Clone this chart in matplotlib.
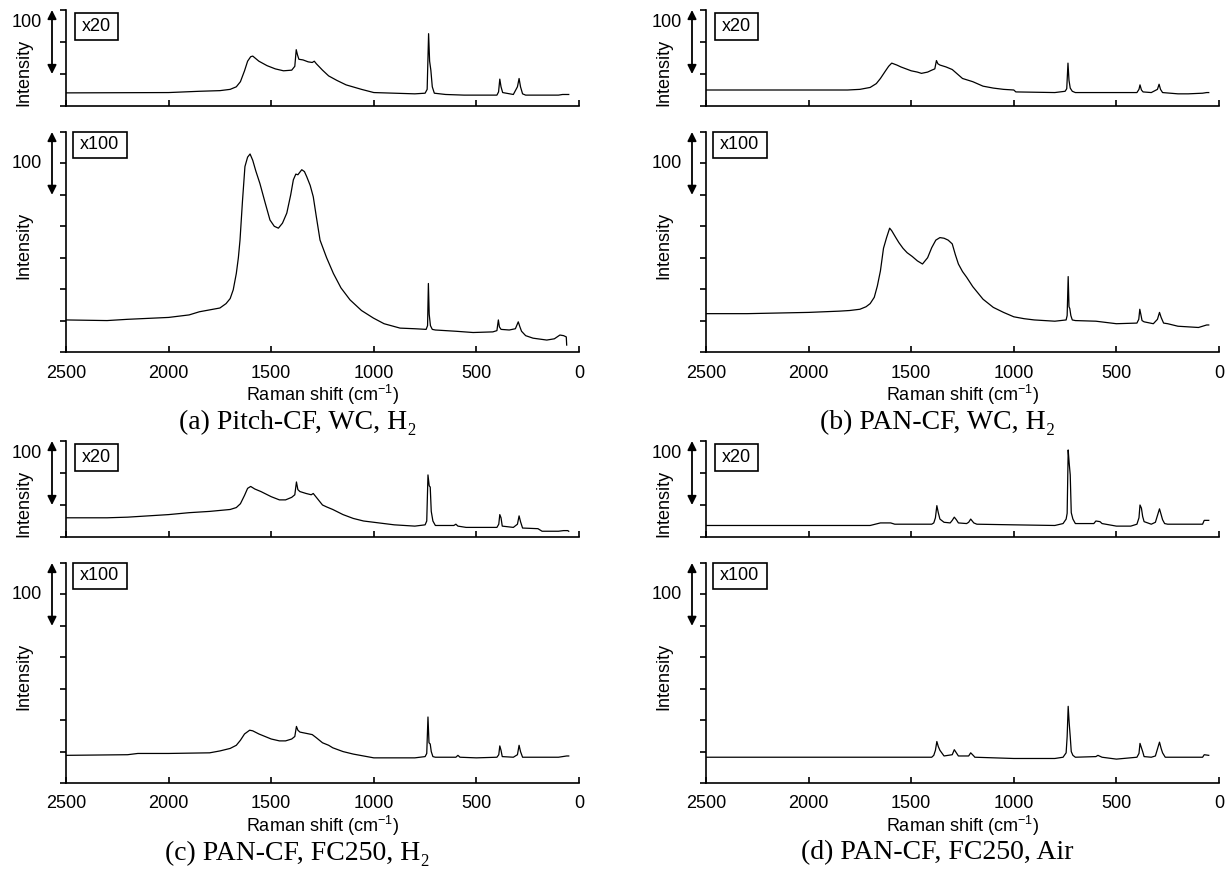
import matplotlib.pyplot as plt
from matplotlib.patches import Rectangle

plt.rcParams['font.family'] = ['Liberation Sans', 'DejaVu Sans']
plt.rcParams['mathtext.fontset'] = 'custom'
plt.rcParams['mathtext.rm'] = 'Liberation Sans'
plt.rcParams['mathtext.it'] = 'Liberation Sans:italic'

W, H = 1231, 875

# ---- spectra (Raman shift cm-1, intensity in arbitrary units; 50 per tick) ----
a_top_x = [2500, 2000, 1850, 1750, 1700, 1670, 1650, 1630, 1615, 1600, 1590, 1560, 1520, 1480, 1440,
           1400, 1385, 1378, 1372, 1365, 1345, 1320, 1300, 1290, 1280, 1250, 1220, 1180, 1135, 1060,
           1000, 800, 750, 740, 733, 728, 722, 715, 705, 650, 560, 400, 392, 386, 380, 372, 320,
           300, 292, 285, 275, 260, 100, 80, 50]
a_top_y = [20.5, 21, 23, 24, 26, 30, 38, 55, 70, 77, 78, 70, 63, 58, 55,
           56, 62, 88, 80, 73, 72, 69, 68, 70, 66, 56, 47, 40, 33, 26,
           21, 19, 20, 26, 113, 70, 56, 30, 20, 18, 17, 17, 22, 42, 30, 21, 18,
           30, 43, 30, 19, 17, 17, 18, 18]

a_low_x = [2500, 2300, 2200, 2000, 1900, 1850, 1750, 1720, 1700, 1685, 1670, 1660, 1652, 1640, 1628,
           1615, 1603, 1590, 1575, 1555, 1530, 1506, 1485, 1465, 1445, 1424, 1405, 1392, 1380, 1370,
           1351, 1338, 1327, 1310, 1295, 1280, 1262, 1230, 1197, 1160, 1116, 1060, 1002, 950, 872,
           800, 745, 738, 734, 730, 724, 715, 700, 600, 516, 420, 400, 393, 388, 380, 340, 310,
           296, 288, 280, 260, 224, 157, 120, 93, 75, 62, 60]
a_low_y = [51, 50, 52, 55, 59, 64, 70, 77, 85, 99, 125, 150, 178, 240, 295,
           310, 315, 305, 288, 268, 238, 210, 200, 197, 205, 221, 250, 274, 283, 282,
           290, 287, 279, 265, 247, 215, 178, 150, 125, 102, 83, 66, 54, 45, 38,
           37, 36, 42, 109, 60, 42, 36, 35, 33, 31, 32, 34, 51, 40, 36, 35, 37,
           48, 40, 33, 26, 22, 19, 21, 27, 26, 24, 11]

b_top_x = [2500, 1810, 1750, 1700, 1670, 1650, 1625, 1610, 1595, 1570, 1550, 1500, 1470, 1450, 1420,
           1400, 1385, 1377, 1370, 1360, 1330, 1300, 1275, 1250, 1200, 1150, 1100, 1050, 1000, 990,
           800, 750, 742, 736, 731, 725, 715, 700, 400, 390, 385, 378, 370, 330, 300, 292, 285,
           275, 200, 150, 80, 60, 50]
b_top_y = [25, 25, 26, 29, 35, 43, 55, 62, 67, 64, 61, 55, 53, 51, 53,
           56, 58, 71, 66, 64, 61, 57, 50, 43, 38, 31, 28, 26, 25, 22,
           21, 23, 27, 67, 40, 28, 23, 21, 21, 26, 33, 25, 22, 21, 26, 34, 26,
           21, 19, 19, 20, 21, 21]

b_low_x = [2500, 2300, 2000, 1850, 1800, 1750, 1720, 1700, 1680, 1665, 1650, 1635, 1620, 1605, 1595,
           1575, 1560, 1540, 1520, 1495, 1470, 1445, 1420, 1400, 1380, 1360, 1340, 1320, 1300, 1285,
           1270, 1250, 1230, 1200, 1150, 1100, 1050, 1000, 950, 900, 800, 745, 740, 735, 731, 727,
           722, 715, 700, 600, 500, 400, 391, 386, 381, 375, 365, 320, 300, 290, 282, 270, 250,
           200, 100, 60, 50]
b_low_y = [61, 61, 63, 65, 66, 68, 72, 77, 87, 105, 129, 165, 182, 197, 193,
           182, 174, 165, 158, 152, 145, 140, 150, 166, 178, 182, 181, 178, 172, 155,
           140, 128, 119, 104, 84, 71, 63, 56, 53, 51, 49, 51, 58, 120, 72, 69,
           58, 51, 50, 49, 45, 46, 52, 68, 60, 50, 48, 45, 52, 63, 55, 46, 45,
           41, 39, 43, 43]

c_top_x = [2500, 2300, 2200, 2000, 1900, 1800, 1700, 1670, 1650, 1630, 1615, 1600, 1580, 1550, 1500,
           1460, 1430, 1400, 1385, 1377, 1370, 1360, 1330, 1305, 1295, 1280, 1250, 1230, 1200, 1150,
           1100, 1050, 1000, 900, 800, 750, 742, 736, 730, 725, 720, 712, 700, 610, 600, 590,
           550, 400, 391, 386, 380, 374, 320, 300, 292, 285, 275, 200, 180, 100, 75, 55, 50]
c_top_y = [30, 30, 31, 35, 38, 40, 43, 46, 52, 65, 76, 79, 75, 71, 63,
           58, 58, 62, 66, 86, 74, 71, 68, 66, 68, 62, 50, 47, 43, 35,
           29, 25, 23, 19, 17, 19, 25, 97, 80, 78, 40, 25, 18, 18, 20, 17,
           15, 15, 20, 35, 30, 17, 15, 20, 33, 24, 14, 13, 9, 9, 10, 10, 9]

c_low_x = [2500, 2200, 2150, 2000, 1800, 1750, 1700, 1670, 1650, 1630, 1605, 1590, 1560, 1530, 1500,
           1460, 1430, 1400, 1385, 1377, 1370, 1360, 1330, 1300, 1280, 1250, 1220, 1200, 1150, 1100,
           1050, 1000, 900, 800, 750, 742, 736, 731, 725, 720, 712, 700, 600, 590, 580, 500,
           400, 391, 386, 380, 374, 320, 300, 292, 285, 275, 200, 100, 60, 50]
c_low_y = [44, 45, 47, 47, 48, 51, 55, 60, 68, 78, 84, 83, 78, 74, 70,
           67, 67, 70, 74, 90, 84, 81, 79, 77, 72, 64, 60, 56, 50, 46,
           43, 40, 40, 40, 42, 47, 105, 64, 62, 50, 42, 41, 41, 44, 41, 40,
           41, 45, 59, 52, 42, 41, 45, 60, 50, 41, 41, 41, 43, 43]

d_top_x = [2500, 1700, 1650, 1600, 1580, 1400, 1390, 1382, 1375, 1368, 1360, 1340, 1310, 1300, 1290,
           1280, 1270, 1230, 1220, 1210, 1195, 1180, 1000, 800, 760, 745, 740, 735, 730, 725,
           720, 712, 700, 610, 600, 580, 570, 500, 430, 400, 390, 385, 378, 372, 365, 330,
           310, 290, 282, 275, 265, 250, 80, 72, 50]
d_top_y = [18, 18, 22, 22, 20, 20, 22, 30, 49, 38, 28, 23, 22, 26, 31,
           27, 22, 21, 23, 28, 22, 20, 19, 18, 21, 28, 37, 136, 115, 97,
           38, 28, 21, 21, 25, 24, 21, 17, 17, 20, 30, 50, 45, 32, 24, 20,
           23, 44, 35, 27, 21, 20, 20, 26, 26]

d_low_x = [2500, 1700, 1400, 1390, 1382, 1375, 1368, 1360, 1340, 1300, 1290, 1280, 1270, 1220, 1210,
           1195, 1190, 1000, 800, 760, 745, 740, 735, 730, 725, 720, 712, 700, 600, 590, 570,
           500, 400, 390, 385, 378, 372, 365, 330, 310, 290, 282, 275, 262, 80, 72, 50]
d_low_y = [41, 41, 41, 44, 52, 66, 58, 52, 43, 45, 53, 48, 43, 43, 48,
           43, 41, 39, 39, 41, 48, 74, 122, 95, 74, 50, 44, 41, 42, 44, 41,
           38, 41, 47, 63, 56, 50, 42, 41, 43, 65, 55, 48, 41, 41, 45, 44]

captions = ['(a) Pitch-CF, WC, H\u2082', '(b) PAN-CF, WC, H\u2082',
            '(c) PAN-CF, FC250, H\u2082', '(d) PAN-CF, FC250, Air']
xticks = [2500, 2000, 1500, 1000, 500, 0]

panels = [
    (66, 10, a_top_x, a_top_y, a_low_x, a_low_y, captions[0]),
    (706, 10, b_top_x, b_top_y, b_low_x, b_low_y, captions[1]),
    (66, 441, c_top_x, c_top_y, c_low_x, c_low_y, captions[2]),
    (706, 441, d_top_x, d_top_y, d_low_x, d_low_y, captions[3]),
]


def rect(x0, y0, x1, y1):
    return [x0 / W, 1 - y1 / H, (x1 - x0) / W, (y1 - y0) / H]


def style(ax, ymax, show_labels, label, lab_y, hundred_y, int_y, box_xy):
    ax.set_xlim(2500, 0)
    ax.set_ylim(0, ymax)
    ax.spines['top'].set_visible(False)
    ax.spines['right'].set_visible(False)
    for s in ('left', 'bottom'):
        ax.spines[s].set_linewidth(1.2)
    ax.set_xticks(xticks)
    ax.set_yticks(range(0, ymax + 1, 50))
    ax.tick_params(axis='x', direction='in', length=4, width=1.2, pad=9,
                   labelsize=13, labelbottom=show_labels)
    ax.tick_params(axis='y', direction='out', length=4, width=1.2, labelleft=False)
    tr = ax.get_yaxis_transform()
    ax.annotate('', xy=(-0.0273, ymax - 100), xytext=(-0.0273, ymax),
                xycoords=tr, textcoords=tr, annotation_clip=False,
                arrowprops=dict(arrowstyle='<|-|>', color='k', lw=1.3,
                                mutation_scale=13, shrinkA=0, shrinkB=0))
    ax.text(-0.076, hundred_y, '100', transform=tr, ha='center', va='center', fontsize=13)
    ax.text(-0.082, int_y, 'Intensity', transform=tr, rotation=90,
            ha='center', va='center', fontsize=13)
    x0, y0, w, h = box_xy
    ax.add_patch(Rectangle((x0, y0), w, h, transform=ax.transAxes, fill=False,
                           lw=1.2, ec='k', clip_on=False))
    ax.text(x0 + w / 2, y0 + h / 2, label, transform=ax.transAxes,
            ha='center', va='center', fontsize=13)


fig = plt.figure(figsize=(W / 100, H / 100), dpi=100)

for left, top, tx, ty, lx, ly, cap in panels:
    right = left + 513
    ax_t = fig.add_axes(rect(left, top, right, top + 96))
    ax_l = fig.add_axes(rect(left, top + 122, right, top + 342))

    ax_t.plot(tx, ty, color='k', lw=0.9)
    ax_l.plot(lx, ly, color='k', lw=0.9)

    style(ax_t, 150, False, 'x20', None, 130, 53, (0.0175, 0.69, 0.084, 0.28))
    style(ax_l, 350, True, 'x100', None, 300, 170, (0.0136, 0.882, 0.105, 0.118))

    cx = (left + right) / 2
    fig.text(cx / W, 1 - (top + 385) / H, 'Raman shift (cm$^{-1}$)',
             ha='center', va='center', fontsize=13)
    fig.text((cx - 25) / W, 1 - (top + 412) / H, cap, ha='center', va='center',
             fontsize=20, family=['Liberation Serif', 'DejaVu Serif'])

fig.savefig('out.png', dpi=100)
